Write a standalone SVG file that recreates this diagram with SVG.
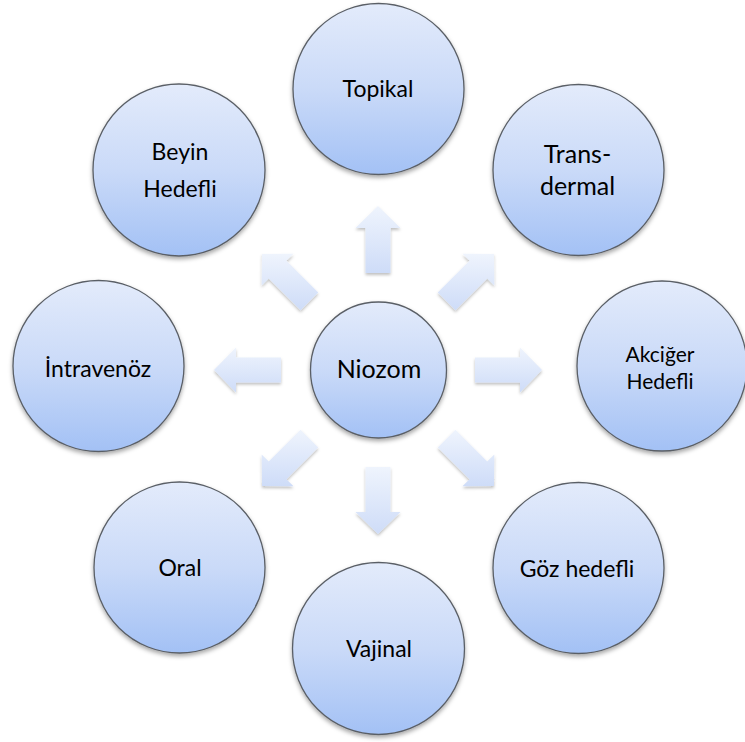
<svg xmlns="http://www.w3.org/2000/svg" width="745" height="742" viewBox="0 0 745 742">
<defs>
<linearGradient id="gc" x1="0" y1="0" x2="0" y2="1">
<stop offset="0" stop-color="#E3EBFB"/>
<stop offset="0.5" stop-color="#CADAF8"/>
<stop offset="1" stop-color="#A3C1F5"/>
</linearGradient>
<linearGradient id="ga" x1="0" y1="0" x2="0" y2="1">
<stop offset="0" stop-color="#EFF4FD"/>
<stop offset="1" stop-color="#CEDCF8"/>
</linearGradient>
<filter id="sh" x="-20%" y="-20%" width="140%" height="140%">
<feDropShadow dx="0" dy="2.5" stdDeviation="2" flood-color="#000" flood-opacity="0.35"/>
</filter>
<filter id="sha" x="-20%" y="-20%" width="140%" height="140%">
<feDropShadow dx="0" dy="2" stdDeviation="1.5" flood-color="#000" flood-opacity="0.25"/>
</filter>
</defs>
<style>
.n{fill:url(#gc);stroke:#5a5f66;stroke-width:1.3;filter:url(#sh)}
.a{fill:url(#ga);stroke:none;filter:url(#sha)}
text{font-family:Lato,"Liberation Sans",sans-serif;font-size:23px;fill:#000;text-anchor:middle}
.big{font-size:25px}
.sm{font-size:21px}
</style>
<rect width="745" height="742" fill="#fff"/>
<g id="connectors">
<polygon class="a" points="475,357.5 520,357.5 520,347.5 542,370 520,392.5 520,382.5 475,382.5"/>
<polygon class="a" points="281,382.5 236,382.5 236,392.5 214,370 236,347.5 236,357.5 281,357.5"/>
<polygon class="a" points="365.5,273 365.5,228 355.5,228 378,206 400.5,228 390.5,228 390.5,273"/>
<polygon class="a" points="390.5,467 390.5,512 400.5,512 378,534 355.5,512 365.5,512 365.5,467"/>
<polygon class="a" points="455.43,429.75 487.25,461.57 494.32,454.5 493.97,485.97 462.5,486.32 469.57,479.25 437.75,447.43"/>
<polygon class="a" points="300.57,429.75 268.75,461.57 261.68,454.5 262.03,485.97 293.5,486.32 286.43,479.25 318.25,447.43"/>
<polygon class="a" points="455.43,310.25 487.25,278.43 494.32,285.5 493.97,254.03 462.5,253.68 469.57,260.75 437.75,292.57"/>
<polygon class="a" points="300.57,310.25 268.75,278.43 261.68,285.5 262.03,254.03 293.5,253.68 286.43,260.75 318.25,292.57"/>
</g>
<g id="niozom"><circle class="n" cx="378.5" cy="370" r="68"/><text class="big" x="379" y="378">Niozom</text></g>
<g id="topikal"><circle class="n" cx="378.5" cy="89" r="85.5"/><text x="378" y="97">Topikal</text></g>
<g id="transdermal"><circle class="n" cx="578.5" cy="170" r="85.5"/><text class="big" x="577.5" y="163">Trans-</text><text class="big" x="577.5" y="195">dermal</text></g>
<g id="akciger"><circle class="n" cx="662" cy="366" r="85"/><text class="sm" x="660" y="362">Akciğer</text><text class="sm" x="660" y="389">Hedefli</text></g>
<g id="goz"><circle class="n" cx="578.5" cy="568" r="85.5"/><text x="577" y="577">Göz hedefli</text></g>
<g id="vajinal"><circle class="n" cx="378.5" cy="648.5" r="86"/><text x="379" y="657">Vajinal</text></g>
<g id="oral"><circle class="n" cx="179.5" cy="567.5" r="85.5"/><text x="180" y="576">Oral</text></g>
<g id="intravenoz"><circle class="n" cx="98.5" cy="366" r="85.5"/><text x="98" y="377">İntravenöz</text></g>
<g id="beyin"><circle class="n" cx="179" cy="170" r="86"/><text x="180" y="160">Beyin</text><text x="180" y="197">Hedefli</text></g>
</svg>
